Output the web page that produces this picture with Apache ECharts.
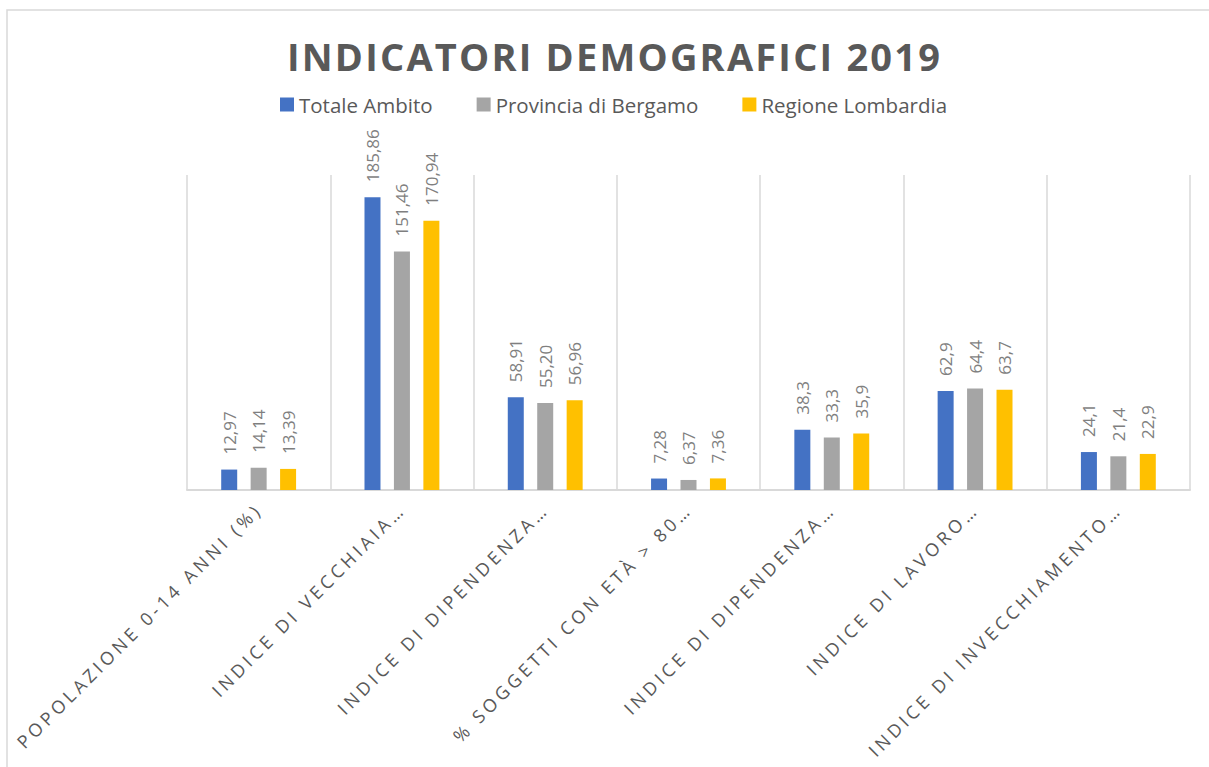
<!DOCTYPE html>
<html>
<head>
<meta charset="utf-8">
<script src="https://cdn.jsdelivr.net/npm/echarts@6/dist/echarts.min.js"></script>
<style>
  html, body { margin: 0; padding: 0; background: #fff; }
  #chart { width: 1209px; height: 767px; }
  /* Excel-like character spacing for the title and the category labels */
  #chart text[style*="38px"] { letter-spacing: 2.2px; }
  #chart text[style*="18px"] { letter-spacing: 3.8px; }
</style>
</head>
<body>
<div id="chart"></div>
<script>
const categories = [
  'POPOLAZIONE 0-14 ANNI (%)',
  'INDICE DI VECCHIAIA…',
  'INDICE DI DIPENDENZA…',
  '% SOGGETTI CON ETÀ > 80…',
  'INDICE DI DIPENDENZA…',
  'INDICE DI LAVORO…',
  'INDICE DI INVECCHIAMENTO…'
]
const totaleAmbito = [12.97, 185.86, 58.91, 7.28, 38.3, 62.9, 24.1]
const provinciaBergamo = [14.14, 151.46, 55.20, 6.37, 33.3, 64.4, 21.4]
const regioneLombardia = [13.39, 170.94, 56.96, 7.36, 35.9, 63.7, 22.9]
// decimals shown in the data labels, per category
const decimals = [2, 2, 2, 2, 1, 1, 1]

const font = '"Open Sans", "Noto Sans", sans-serif'

const chart = echarts.init(document.getElementById('chart'), null, { renderer: 'svg' })

function barSeries(name, data, color) {
  return {
    name: name,
    type: 'bar',
    data: data,
    barWidth: 16,
    barGap: '84%',
    itemStyle: { color: color },
    label: {
      show: true,
      position: 'top',
      distance: 15,
      rotate: 90,
      align: 'left',
      verticalAlign: 'middle',
      color: '#7f7f7f',
      fontSize: 17,
      fontFamily: font,
      formatter: p => p.value.toFixed(decimals[p.dataIndex]).replace('.', ',')
    }
  }
}

chart.setOption({
  animation: false,
  title: {
    text: 'INDICATORI DEMOGRAFICI 2019',
    left: 282,
    top: 32,
    textStyle: {
      color: '#595959',
      fontSize: 38,
      fontWeight: 'bold',
      fontFamily: font
    }
  },
  legend: {
    left: 275,
    top: 89,
    itemWidth: 14,
    itemHeight: 14,
    itemGap: 44,
    icon: 'rect',
    textStyle: { color: '#595959', fontSize: 20.5, fontFamily: font },
    data: ['Totale Ambito', 'Provincia di Bergamo', 'Regione Lombardia']
  },
  grid: {
    left: 187,
    right: 19,
    top: 175,
    bottom: 277,
    containLabel: false
  },
  graphic: [{
    type: 'rect',
    shape: { x: 7, y: 10, width: 1400, height: 900 },
    style: { fill: 'none', stroke: '#d9d9d9', lineWidth: 1.5 },
    silent: true
  }],
  xAxis: {
    type: 'category',
    data: categories,
    axisLine: { lineStyle: { color: '#d9d9d9', width: 2 } },
    axisTick: { show: false },
    splitLine: { show: true, lineStyle: { color: '#d9d9d9', width: 1.5 } },
    axisLabel: {
      interval: 0,
      rotate: 45,
      margin: 16,
      color: '#595959',
      fontSize: 18,
      fontFamily: font
    }
  },
  yAxis: {
    type: 'value',
    min: 0,
    max: 200,
    show: false
  },
  series: [
    barSeries('Totale Ambito', totaleAmbito, '#4472C4'),
    barSeries('Provincia di Bergamo', provinciaBergamo, '#A5A5A5'),
    barSeries('Regione Lombardia', regioneLombardia, '#FFC000')
  ]
})
</script>
</body>
</html>
